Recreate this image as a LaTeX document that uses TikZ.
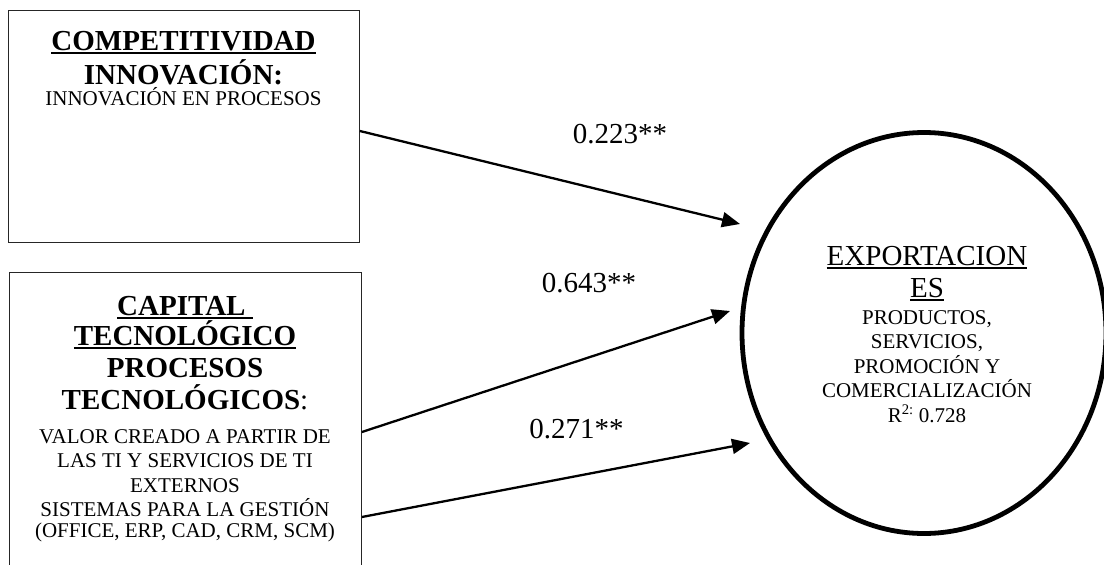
\documentclass[tikz,border=0pt]{standalone}
\usepackage{fontspec}
\setmainfont{Liberation Serif}
\usetikzlibrary{arrows.meta,shapes.geometric}
% underline drawn as a rule just below the baseline
\newsavebox\undlbox
\newcommand\undl[1]{\sbox\undlbox{#1}\rlap{\rule[-3.6pt]{\wd\undlbox}{1.4pt}}\usebox\undlbox}
\begin{document}
\begin{tikzpicture}[x=1pt,y=-1pt,
  frame/.style={draw=black!85, line width=0.9pt, inner sep=0pt, anchor=north west},
  headline/.style={font=\fontsize{29}{32}\selectfont\bfseries, anchor=base, inner sep=0pt},
  bodyline/.style={font=\fontsize{21}{24}\selectfont, anchor=base, inner sep=0pt},
  titleline/.style={font=\fontsize{29}{32}\selectfont, anchor=base, inner sep=0pt},
  coef/.style={font=\fontsize{29}{32}\selectfont, anchor=base, inner sep=0pt},
  path arrow/.style={line width=2.3pt, -{Triangle[length=18pt,width=15pt]}}]
\useasboundingbox (0,0) rectangle (1104,565);
\clip (0,0) rectangle (1104,565);

% competitiveness box
\node[frame, minimum width=351pt, minimum height=232pt] (inno) at (8,10) {};
\node[headline] (inno1) at (183.5,50) {\undl{COMPETITIVIDAD}};
\node[headline] (inno2) at (183.5,84) {INNOVACIÓN:};
\node[bodyline] (inno3) at (183.5,105) {INNOVACIÓN EN PROCESOS};

% technological capital box (runs past the lower edge)
\node[frame, minimum width=352pt, minimum height=360pt] (tec) at (9,272) {};
\node[headline] (tec1) at (185,315) {\undl{CAPITAL\ }};
\node[headline] (tec2) at (185,345) {\undl{TECNOLÓGICO}};
\node[headline] (tec3) at (185,377) {PROCESOS};
\node[headline] (tec4) at (185,409) {TECNOLÓGICOS\mdseries:};
\node[bodyline] (tec5) at (185,443) {VALOR CREADO A PARTIR DE};
\node[bodyline] (tec6) at (185,467) {LAS TI Y SERVICIOS DE TI};
\node[bodyline] (tec7) at (185,492) {EXTERNOS};
\node[bodyline] (tec8) at (185,516) {SISTEMAS PARA LA GESTIÓN};
\node[bodyline] (tec9) at (185,537) {(OFFICE, ERP, CAD, CRM, SCM)};

% exports construct
\node[ellipse, draw, line width=4.8pt, minimum width=364pt, minimum height=401pt, inner sep=0pt] (exp) at (924,333) {};
\node[titleline] (exp1) at (927,265) {\undl{EXPORTACION}};
\node[titleline] (exp2) at (927,297) {\undl{ES}};
\node[bodyline] (exp3) at (927,324) {PRODUCTOS,};
\node[bodyline] (exp4) at (927,348) {SERVICIOS,};
\node[bodyline] (exp5) at (927,373) {PROMOCIÓN Y};
\node[bodyline] (exp6) at (927,397) {COMERCIALIZACIÓN};
\node[bodyline] (exp7) at (927,422) {R\textsuperscript{2:} 0.728};

% path coefficients
\path (inno.north east) ++(0,121) coordinate (s1);
\path (tec.north east) ++(0,160) coordinate (s2);
\path (tec.north east) ++(0,245) coordinate (s3);
\coordinate (e1) at (740,224);
\coordinate (e2) at (730,311);
\coordinate (e3) at (750,443);

\draw[path arrow] (s1) -- (e1);
\draw[path arrow] (s2) -- (e2);
\draw[path arrow] (s3) -- (e3);

\node[coef] (c1) at (620,143) {0.223**};
\node[coef] (c2) at (589,292) {0.643**};
\node[coef] (c3) at (576.5,438) {0.271**};
\end{tikzpicture}
\end{document}
